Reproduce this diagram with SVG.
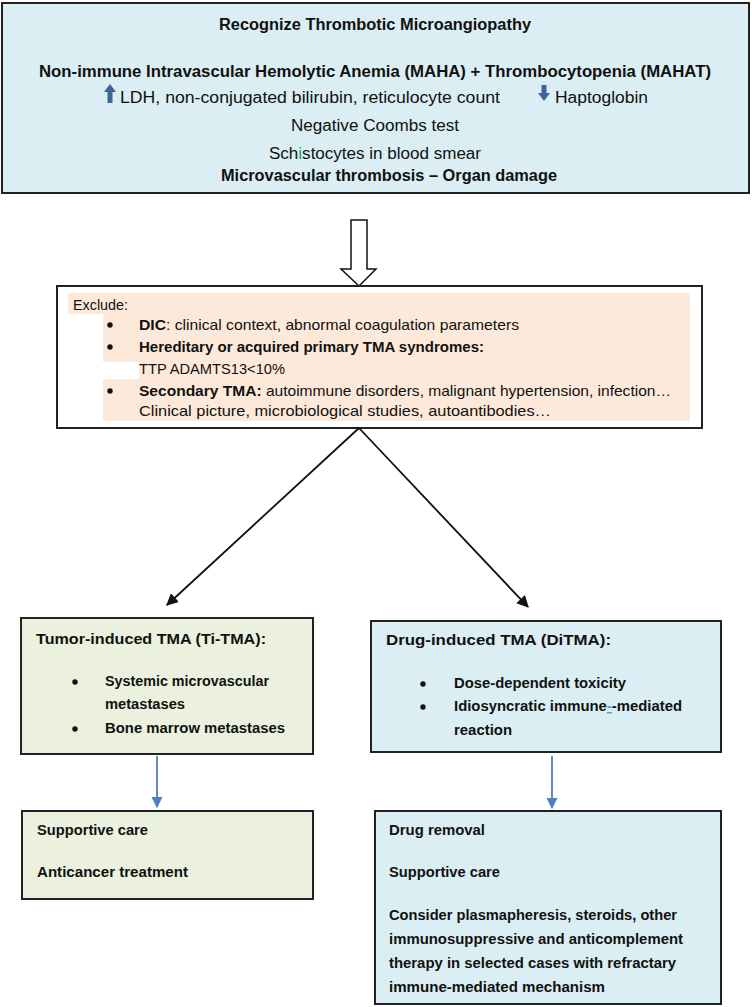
<svg xmlns="http://www.w3.org/2000/svg" width="752" height="1007" viewBox="0 0 752 1007">
<defs>
<style>
text{font-family:"Liberation Sans",Arial,sans-serif;fill:#111;}
.t16{font-size:16px;}
.t15{font-size:15px;}
.t14{font-size:14.5px;font-weight:bold;}
.b{font-weight:bold;}
.box{stroke:#222;stroke-width:2;}
.blue{fill:#DAEEF3;}
.green{fill:#EBF1DE;}
.peach{fill:#FDE9D9;}
.conn{stroke:#111;stroke-width:1.8;fill:none;}
.bconn{stroke:#4F81BD;stroke-width:1.8;fill:none;}
</style>
<marker id="ah" viewBox="0 0 10 10" refX="9" refY="5" markerWidth="12" markerHeight="12" markerUnits="userSpaceOnUse" orient="auto"><path d="M0,0 L10,5 L0,10 z" fill="#111"/></marker>
<marker id="bh" viewBox="0 0 10 10" refX="9" refY="5" markerWidth="11" markerHeight="11" markerUnits="userSpaceOnUse" orient="auto"><path d="M0,0 L10,5 L0,10 z" fill="#4F81BD"/></marker>
</defs>

<g id="recognize">
<rect class="box blue" x="2" y="3" width="747" height="190"/>
<text class="t16 b" x="375" y="30" text-anchor="middle" textLength="312" lengthAdjust="spacingAndGlyphs">Recognize Thrombotic Microangiopathy</text>
<text class="t16 b" x="375" y="77" text-anchor="middle" textLength="672" lengthAdjust="spacingAndGlyphs">Non-immune Intravascular Hemolytic Anemia (MAHA) + Thrombocytopenia (MAHAT)</text>
<path d="M110,84 L116,92 L112.5,92 L112.5,103 L107.5,103 L107.5,92 L104,92 Z" fill="#3F6497"/>
<text class="t16" x="120" y="103" textLength="380" lengthAdjust="spacingAndGlyphs">LDH, non-conjugated bilirubin, reticulocyte count</text>
<path d="M541.5,85 L546.5,85 L546.5,93 L550,93 L544,101 L538,93 L541.5,93 Z" fill="#3F6497"/>
<text class="t16" x="555" y="103" textLength="93" lengthAdjust="spacingAndGlyphs">Haptoglobin</text>
<text class="t16" x="375" y="131" text-anchor="middle" textLength="168" lengthAdjust="spacingAndGlyphs">Negative Coombs test</text>
<text class="t16" x="375" y="159" text-anchor="middle" textLength="212" lengthAdjust="spacingAndGlyphs">Sch<tspan style="fill:#00B050">i</tspan>stocytes in blood smear</text>
<text class="t16 b" x="389" y="181" text-anchor="middle" textLength="336" lengthAdjust="spacingAndGlyphs">Microvascular thrombosis – Organ damage</text>
</g>

<g id="block-arrow">
<path d="M351,220 L367,220 L367,269 L376,269 L359,286 L341,269 L351,269 Z" fill="#fff" stroke="#111" stroke-width="1.5"/>
</g>

<g id="exclude">
<rect x="57" y="286" width="645" height="142" fill="#fff" class="box"/>
<rect class="peach" x="68" y="293" width="622" height="21"/>
<rect class="peach" x="103" y="314" width="587" height="107"/>
<rect fill="#fff" x="103" y="362" width="36" height="17"/>
<text class="t15" x="73" y="310" textLength="55" lengthAdjust="spacingAndGlyphs">Exclude:</text>
<circle cx="110" cy="325" r="2.7" fill="#111"/>
<text class="t15" x="139" y="330" textLength="380" lengthAdjust="spacingAndGlyphs"><tspan class="b">DIC</tspan>: clinical context, abnormal coagulation parameters</text>
<circle cx="110" cy="347" r="2.7" fill="#111"/>
<text class="t15 b" x="139" y="352" textLength="345" lengthAdjust="spacingAndGlyphs">Hereditary or acquired primary TMA syndromes:</text>
<text class="t15" x="139" y="374" textLength="146" lengthAdjust="spacingAndGlyphs">TTP ADAMTS13&lt;10%</text>
<circle cx="110" cy="391" r="2.7" fill="#111"/>
<text class="t15" x="139" y="396" textLength="532" lengthAdjust="spacingAndGlyphs"><tspan class="b">Secondary TMA:</tspan> autoimmune disorders, malignant hypertension, infection…</text>
<text class="t15" x="139" y="416" textLength="412" lengthAdjust="spacingAndGlyphs">Clinical picture, microbiological studies, autoantibodies…</text>
</g>

<g id="ti-tma">
<rect class="box green" x="21" y="618" width="292" height="136"/>
<text class="t14" x="36" y="644" textLength="230" lengthAdjust="spacingAndGlyphs">Tumor-induced TMA (Ti-TMA):</text>
<circle cx="75" cy="682" r="2.7" fill="#111"/>
<text class="t14" x="105" y="686" textLength="164" lengthAdjust="spacingAndGlyphs">Systemic microvascular</text>
<text class="t14" x="105" y="709" textLength="80" lengthAdjust="spacingAndGlyphs">metastases</text>
<circle cx="75" cy="729" r="2.7" fill="#111"/>
<text class="t14" x="105" y="733" textLength="180" lengthAdjust="spacingAndGlyphs">Bone marrow metastases</text>
</g>

<g id="ditma">
<rect class="box blue" x="371" y="621" width="350" height="131"/>
<text class="t14" x="386" y="645" textLength="225" lengthAdjust="spacingAndGlyphs">Drug-induced TMA (DiTMA):</text>
<circle cx="423" cy="684" r="2.7" fill="#111"/>
<text class="t14" x="454" y="688" textLength="172" lengthAdjust="spacingAndGlyphs">Dose-dependent toxicity</text>
<circle cx="423" cy="707" r="2.7" fill="#111"/>
<text class="t14" x="454" y="711" textLength="228" lengthAdjust="spacingAndGlyphs">Idiosyncratic immune<tspan style="fill:#4F9FD8" text-decoration="underline">-</tspan>-mediated</text>
<text class="t14" x="454" y="735" textLength="58" lengthAdjust="spacingAndGlyphs">reaction</text>
</g>

<g id="ti-treatment">
<rect class="box green" x="22" y="811" width="291" height="88"/>
<text class="t14" x="37" y="835" textLength="111" lengthAdjust="spacingAndGlyphs">Supportive care</text>
<text class="t14" x="37" y="877" textLength="151" lengthAdjust="spacingAndGlyphs">Anticancer treatment</text>
</g>

<g id="di-treatment">
<rect class="box blue" x="375" y="811" width="346" height="193"/>
<text class="t14" x="389" y="835" textLength="96" lengthAdjust="spacingAndGlyphs">Drug removal</text>
<text class="t14" x="389" y="877" textLength="111" lengthAdjust="spacingAndGlyphs">Supportive care</text>
<text class="t14" x="389" y="920" textLength="288" lengthAdjust="spacingAndGlyphs">Consider plasmapheresis, steroids, other</text>
<text class="t14" x="389" y="944" textLength="294" lengthAdjust="spacingAndGlyphs">immunosuppressive and anticomplement</text>
<text class="t14" x="389" y="968" textLength="287" lengthAdjust="spacingAndGlyphs">therapy in selected cases with refractary</text>
<text class="t14" x="389" y="992" textLength="216" lengthAdjust="spacingAndGlyphs">immune-mediated mechanism</text>
</g>

<g id="connectors">
<line class="conn" x1="359" y1="428" x2="167" y2="605" marker-end="url(#ah)"/>
<line class="conn" x1="359" y1="428" x2="528" y2="607" marker-end="url(#ah)"/>
<line class="bconn" x1="157" y1="756" x2="157" y2="807" marker-end="url(#bh)"/>
<line class="bconn" x1="552" y1="756" x2="552" y2="808" marker-end="url(#bh)"/>
</g>
</svg>
